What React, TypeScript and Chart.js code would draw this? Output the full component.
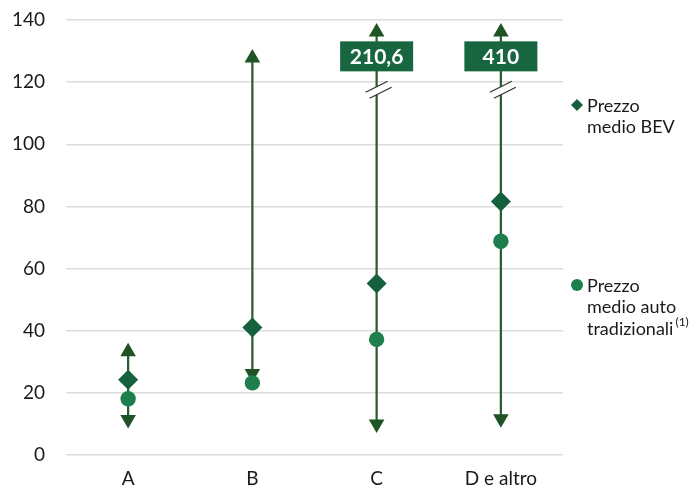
import { useEffect, useRef } from 'react';
import { Chart, registerables } from 'chart.js';

Chart.register(...registerables);

const categories = ['A', 'B', 'C', 'D e altro'];
const minPrices = [11.4, 26.2, 10.0, 11.7];
const maxPrices = [33.2, 127.8, 210.6, 410];
const bevPrices = [24.2, 41.0, 55.2, 81.6];
const traditionalPrices = [18.1, 23.2, 37.2, 68.8];
const yTickValues = [0, 20, 40, 60, 80, 100, 120, 140];

const Y_MAX = 140;
const CAP_ARROW = 136.1;
const CAP_LABEL = 128.3;
const CAP_BREAK = 117.7;

const legendBev = ['Prezzo', 'medio BEV'];
const legendTrad = ['Prezzo', 'medio auto', 'tradizionali'];
const legendNote = '(1)';

const FONT = 'Lato, "Open Sans", sans-serif';
const TEXT = '#1a1a1a';
const LINE = '#2c5c33';
const ARROW = '#1f5224';
const BEV = '#15603d';
const TRAD = '#1d7f4b';
const BOX = '#17663f';

const displayMax = maxPrices.map((v) => (v > Y_MAX ? CAP_ARROW : v));

const overlayPlugin = {
  id: 'overlay',
  afterDatasetsDraw(chart: any) {
    const ctx = chart.ctx as CanvasRenderingContext2D;
    const xs = chart.scales.x;
    const ys = chart.scales.y;
    maxPrices.forEach((v, i) => {
      if (v <= Y_MAX) return;
      const x = xs.getPixelForValue(i);
      // break marks
      const yb = ys.getPixelForValue(CAP_BREAK);
      ctx.save();
      ctx.fillStyle = '#ffffff';
      ctx.beginPath();
      ctx.moveTo(x - 11, yb + 3);
      ctx.lineTo(x + 11, yb - 8);
      ctx.lineTo(x + 15, yb - 2);
      ctx.lineTo(x - 7, yb + 9);
      ctx.closePath();
      ctx.fill();
      ctx.strokeStyle = '#333333';
      ctx.lineWidth = 1.3;
      ctx.beginPath();
      ctx.moveTo(x - 11, yb + 3);
      ctx.lineTo(x + 11, yb - 8);
      ctx.moveTo(x - 7, yb + 9);
      ctx.lineTo(x + 15, yb - 2);
      ctx.stroke();
      // value box
      const yl = ys.getPixelForValue(CAP_LABEL);
      const w = 73;
      const h = 30;
      ctx.fillStyle = BOX;
      ctx.fillRect(x - w / 2, yl - h / 2, w, h);
      ctx.fillStyle = '#ffffff';
      ctx.font = `bold 21px ${FONT}`;
      ctx.textAlign = 'center';
      ctx.textBaseline = 'middle';
      ctx.fillText(String(v).replace('.', ','), x, yl + 1);
      ctx.restore();
    });

    // legend
    const ca = chart.chartArea;
    const lx = ca.right + 14;
    ctx.save();
    ctx.font = `18px ${FONT}`;
    ctx.fillStyle = TEXT;
    ctx.textAlign = 'left';
    ctx.textBaseline = 'alphabetic';
    // BEV entry
    const y1 = ca.top + 85;
    ctx.fillStyle = BEV;
    ctx.beginPath();
    ctx.moveTo(lx, y1 - 6);
    ctx.lineTo(lx + 6, y1);
    ctx.lineTo(lx, y1 + 6);
    ctx.lineTo(lx - 6, y1);
    ctx.closePath();
    ctx.fill();
    ctx.fillStyle = TEXT;
    legendBev.forEach((t, k) => ctx.fillText(t, lx + 10, y1 + 6.5 + k * 21));
    // traditional entry
    const y2 = ca.top + 265;
    ctx.fillStyle = TRAD;
    ctx.beginPath();
    ctx.arc(lx, y2, 6, 0, Math.PI * 2);
    ctx.fill();
    ctx.fillStyle = TEXT;
    legendTrad.forEach((t, k) => ctx.fillText(t, lx + 10, y2 + 6.5 + k * 21.5));
    const lastW = ctx.measureText(legendTrad[legendTrad.length - 1]).width;
    ctx.font = `12px ${FONT}`;
    ctx.fillText(legendNote, lx + 10 + lastW + 2, y2 + 6.5 + 2 * 21.5 - 9);
    ctx.restore();
  },
};

export default function App() {
  const ref = useRef<HTMLCanvasElement>(null);
  useEffect(() => {
    let chart: Chart | null = null;
    let cancelled = false;
    const build = () => {
      if (cancelled || !ref.current) return;
      chart = new Chart(ref.current, {
        type: 'bar',
        data: {
          labels: categories,
          datasets: [
            {
              type: 'line',
              label: 'Prezzo medio auto tradizionali',
              data: traditionalPrices,
              showLine: false,
              pointStyle: 'circle',
              pointRadius: 7.7,
              pointBorderWidth: 0,
              pointBackgroundColor: TRAD,
              borderColor: TRAD,
              order: 1,
            } as any,
            {
              type: 'line',
              label: 'Prezzo medio BEV',
              data: bevPrices,
              showLine: false,
              pointStyle: 'rectRot',
              pointRadius: 10,
              pointBorderWidth: 0,
              pointBackgroundColor: BEV,
              borderColor: BEV,
              order: 2,
            } as any,
            {
              type: 'line',
              label: 'Max',
              data: displayMax,
              showLine: false,
              pointStyle: 'triangle',
              pointRadius: 9,
              pointBorderWidth: 0,
              pointBackgroundColor: ARROW,
              borderColor: ARROW,
              order: 3,
            } as any,
            {
              type: 'line',
              label: 'Min',
              data: minPrices,
              showLine: false,
              pointStyle: 'triangle',
              pointRotation: 180,
              pointRadius: 9,
              pointBorderWidth: 0,
              pointBackgroundColor: ARROW,
              borderColor: ARROW,
              order: 3,
            } as any,
            {
              type: 'bar',
              label: 'Range',
              data: categories.map((_, i) => [minPrices[i], displayMax[i]]),
              backgroundColor: LINE,
              borderWidth: 0,
              barThickness: 1.6,
              order: 4,
            } as any,
          ],
        },
        options: {
          responsive: false,
          animation: false,
          layout: { padding: { top: 20, right: 135, left: 0, bottom: 0 } },
          plugins: { legend: { display: false }, tooltip: { enabled: false } },
          scales: {
            x: {
              type: 'category',
              offset: true,
              grid: { display: false, drawTicks: false },
              border: { display: false },
              ticks: { color: TEXT, font: { family: FONT, size: 19 }, padding: 12 },
              afterFit: (s: any) => {
                s.height = 36;
                s.paddingLeft = 0;
                s.paddingRight = 0;
              },
            },
            y: {
              min: 0,
              max: Y_MAX,
              afterBuildTicks: (s: any) => {
                s.ticks = yTickValues.map((v) => ({ value: v }));
              },
              grid: { color: '#dcdcdc', lineWidth: 1.5, drawTicks: false },
              border: { display: false },
              ticks: { color: TEXT, font: { family: FONT, size: 19 }, padding: 21 },
              afterFit: (s: any) => {
                s.width = 66;
                s.paddingTop = 0;
                s.paddingBottom = 0;
              },
            },
          },
        } as any,
        plugins: [overlayPlugin],
      });
    };
    const fonts = (document as any).fonts;
    if (fonts && fonts.load) {
      Promise.all([fonts.load(`19px Lato`), fonts.load(`bold 21px Lato`)])
        .catch(() => {})
        .then(build);
    } else {
      build();
    }
    return () => {
      cancelled = true;
      if (chart) chart.destroy();
    };
  }, []);
  return (
    <div style={{ position: 'fixed', left: 0, top: 0, width: 698, height: 491, background: '#fff' }}>
      <canvas ref={ref} width={698} height={491} style={{ width: 698, height: 491 }} />
    </div>
  );
}
